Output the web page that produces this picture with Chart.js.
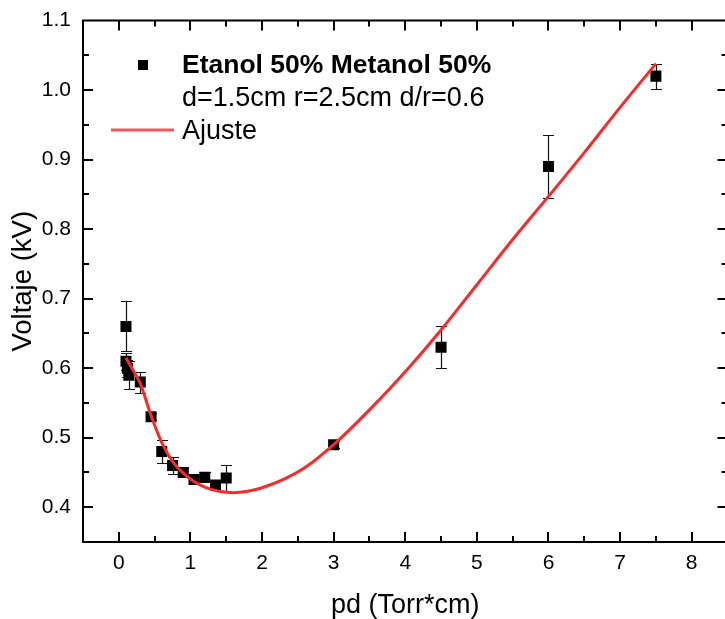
<!DOCTYPE html>
<html>
<head>
<meta charset="utf-8">
<script src="https://cdn.jsdelivr.net/npm/chart.js@4.4.1/dist/chart.umd.min.js"></script>
<style>
html,body{margin:0;padding:0;background:#fff;overflow:hidden;width:725px;height:619px;}
#c{display:block;width:729px;height:619px;}
</style>
</head>
<body>
<canvas id="c" width="729" height="619"></canvas>
<script>
// Measured points (pd in Torr*cm, voltage in kV)
const pdValues   = [0.1, 0.1, 0.12, 0.14, 0.3, 0.45, 0.6, 0.75, 0.9, 1.05, 1.2, 1.35, 1.5, 3.0, 4.5, 6.0, 7.5];
const voltValues = [0.66, 0.61, 0.60, 0.59, 0.58, 0.53, 0.48, 0.46, 0.45, 0.44, 0.443, 0.432, 0.442, 0.49, 0.63, 0.89, 1.02];
const voltErrors = [0.036, 0.012, 0.012, 0.02, 0.015, 0.005, 0.016, 0.012, 0.006, 0.005, 0.007, 0.005, 0.019, 0.005, 0.03, 0.045, 0.018];

// Fit curve
const fitPd   = [0.1, 0.2, 0.3, 0.45, 0.6, 0.75, 0.9, 1.05, 1.2, 1.4, 1.6, 1.8, 2.0, 2.3, 2.6, 3.0, 3.5, 4.0, 4.5, 5.0, 5.5, 6.0, 6.5, 7.0, 7.5];
const fitVolt = [0.615, 0.597, 0.578, 0.532, 0.493, 0.466, 0.449, 0.437, 0.429, 0.423, 0.421, 0.423, 0.428, 0.44, 0.457, 0.49, 0.54, 0.595, 0.655, 0.72, 0.785, 0.847, 0.91, 0.975, 1.038];

const xTicks = [0, 1, 2, 3, 4, 5, 6, 7, 8];
const yTicks = [0.4, 0.5, 0.6, 0.7, 0.8, 0.9, 1.0, 1.1];

const legendTitle = 'Etanol 50% Metanol 50%';
const legendSub = 'd=1.5cm r=2.5cm d/r=0.6';
const legendFit = 'Ajuste';

const FONT = '"Liberation Sans", Arial, sans-serif';
const RED = '#fa2a2a';

const scatterData = pdValues.map((x, i) => ({x: x, y: voltValues[i]}));
const fitData = fitPd.map((x, i) => ({x: x, y: fitVolt[i]}));

const errorBars = {
  id: 'errorBars',
  beforeDatasetsDraw(chart) {
    const ctx = chart.ctx, xs = chart.scales.x, ys = chart.scales.y;
    ctx.save();
    ctx.strokeStyle = '#111';
    ctx.lineWidth = 1.2;
    pdValues.forEach((x, i) => {
      const px = Math.round(xs.getPixelForValue(x)) + 0.5;
      const top = Math.round(ys.getPixelForValue(voltValues[i] + voltErrors[i])) + 0.5;
      const bot = Math.round(ys.getPixelForValue(voltValues[i] - voltErrors[i])) + 0.5;
      ctx.beginPath();
      ctx.moveTo(px, top); ctx.lineTo(px, bot);
      ctx.moveTo(px - 5.5, top); ctx.lineTo(px + 5.5, top);
      ctx.moveTo(px - 5.5, bot); ctx.lineTo(px + 5.5, bot);
      ctx.stroke();
    });
    ctx.restore();
  }
};

const frame = {
  id: 'frame',
  afterDraw(chart) {
    const ctx = chart.ctx, a = chart.chartArea, xs = chart.scales.x, ys = chart.scales.y;
    ctx.save();
    ctx.strokeStyle = '#000';
    ctx.lineWidth = 2;
    ctx.strokeRect(a.left, a.top, a.right - a.left, a.bottom - a.top);
    ctx.beginPath();
    for (let k = 1; k < 18; k++) {
      const v = -0.5 + k * 0.5;
      const px = Math.round(xs.getPixelForValue(v));
      const len = (k % 2 === 1) ? 10 : 6;
      ctx.moveTo(px, a.bottom); ctx.lineTo(px, a.bottom - len);
      ctx.moveTo(px, a.top); ctx.lineTo(px, a.top + len);
    }
    for (let k = 1; k < 15; k++) {
      const v = 0.35 + k * 0.05;
      const py = Math.round(ys.getPixelForValue(v));
      const len = (k % 2 === 1) ? 10 : 6;
      ctx.moveTo(a.left, py); ctx.lineTo(a.left + len, py);
      ctx.moveTo(a.right, py); ctx.lineTo(a.right - len, py);
    }
    ctx.stroke();

    // Legend
    ctx.fillStyle = '#000';
    ctx.fillRect(138, 60, 10, 10);
    ctx.textBaseline = 'middle';
    ctx.textAlign = 'left';
    ctx.font = 'bold 26.5px ' + FONT;
    ctx.fillText(legendTitle, 182, 66);
    ctx.font = '27px ' + FONT;
    ctx.fillText(legendSub, 182, 99);
    ctx.fillText(legendFit, 182, 132);
    ctx.strokeStyle = '#f25656';
    ctx.lineWidth = 3;
    ctx.beginPath();
    ctx.moveTo(111, 130); ctx.lineTo(174, 130);
    ctx.stroke();
    ctx.restore();
  }
};

function noPad(s) {
  s.paddingTop = 0; s.paddingBottom = 0; s.paddingLeft = 0; s.paddingRight = 0;
}

new Chart(document.getElementById('c'), {
  type: 'scatter',
  data: {
    datasets: [
      {
        type: 'line',
        label: legendFit,
        data: fitData,
        borderColor: RED,
        borderWidth: 3,
        pointRadius: 0,
        fill: false,
        cubicInterpolationMode: 'monotone',
        order: 0
      },
      {
        label: legendTitle,
        data: scatterData,
        pointStyle: 'rect',
        pointRadius: 7.8,
        backgroundColor: '#000',
        borderColor: '#000',
        borderWidth: 0,
        order: 1
      }
    ]
  },
  plugins: [errorBars, frame],
  options: {
    responsive: false,
    animation: false,
    devicePixelRatio: 1,
    layout: {autoPadding: false, padding: {top: 20.5, right: 1.5, left: 0, bottom: 0}},
    plugins: {legend: {display: false}, tooltip: {enabled: false}},
    scales: {
      x: {
        type: 'linear',
        min: -0.5, max: 8.5,
        grid: {display: false, drawTicks: false},
        border: {display: false},
        afterBuildTicks(s) { s.ticks = xTicks.map(v => ({value: v})); },
        afterFit(s) { s.height = 77; noPad(s); },
        ticks: {color: '#000', font: {family: FONT, size: 21}, padding: 9, maxRotation: 0,
                callback: v => String(v)},
        title: {display: true, text: 'pd (Torr*cm)', color: '#000', font: {family: FONT, size: 27, lineHeight: 1.0}, padding: {top: 4, bottom: 0}}
      },
      y: {
        type: 'linear',
        min: 0.35, max: 1.1,
        grid: {display: false, drawTicks: false},
        border: {display: false},
        afterBuildTicks(s) { s.ticks = yTicks.map(v => ({value: v})); },
        afterFit(s) { s.width = 83; noPad(s); },
        ticks: {color: '#000', font: {family: FONT, size: 21}, padding: 12,
                callback: v => Number(v).toFixed(1)},
        title: {display: true, text: 'Voltaje (kV)', color: '#000', font: {family: FONT, size: 27.5, lineHeight: 1.0}, padding: {top: 10, bottom: 0}}
      }
    }
  }
});
</script>
</body>
</html>
